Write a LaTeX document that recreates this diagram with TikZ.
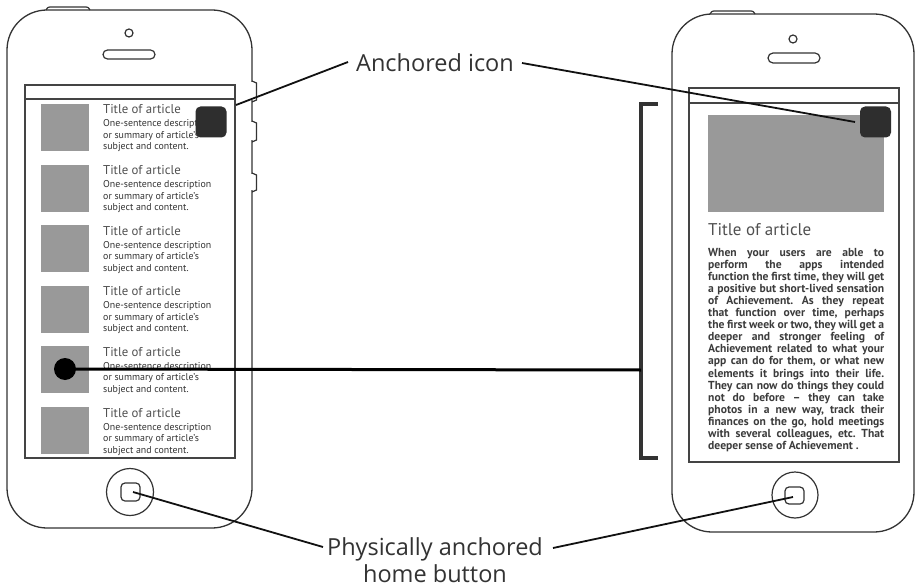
\documentclass[tikz,border=0pt]{standalone}
\usepackage{fontspec}
\setmainfont{Open Sans}
\newfontfamily\ptsans{PT Sans}
\newfontfamily\ptsansb{PT Sans Bold}
\definecolor{outline}{HTML}{333333}
\definecolor{scrline}{HTML}{444444}
\definecolor{thumbgray}{HTML}{999999}
\definecolor{icondark}{HTML}{2E2E2E}
\definecolor{txtgray}{HTML}{505050}
\definecolor{txtdark}{HTML}{333333}
\definecolor{paracol}{HTML}{3C3C3C}
\definecolor{labelgray}{HTML}{333333}
\definecolor{leadcol}{HTML}{111111}
\tikzset{
  body/.style={draw=outline, line width=1.3pt, fill=white},
  phoneline/.style={draw=outline, line width=1.2pt},
  scr/.style={draw=scrline, line width=1.5pt},
  thumb/.style={fill=thumbgray},
  iconbox/.style={fill=icondark, rounded corners=5pt, minimum size=31pt, inner sep=0pt},
  ttl/.style={font=\ptsans\fontsize{12.8}{14}\selectfont, text=txtgray, anchor=base west, inner sep=0pt},
  dsc/.style={font=\ptsans\fontsize{9.9}{11}\selectfont, text=txtdark, anchor=base west, inner sep=0pt},
  bigttl/.style={font=\ptsans\fontsize{17}{20}\selectfont, text=txtgray, anchor=base west, inner sep=0pt},
  para/.style={font=\ptsansb\fontsize{11.6}{12}\selectfont\frenchspacing, text=paracol, anchor=base west, inner sep=0pt},
  lead/.style={draw=leadcol, line width=1.8pt},
  thickline/.style={draw=black, line width=3pt},
  bracketline/.style={draw=outline, line width=3.5pt},
  dotnode/.style={circle, fill=black, minimum size=22pt, inner sep=0pt},
  biglabel/.style={font=\fontsize{23.5}{27}\selectfont, text=labelgray, anchor=base, inner sep=0pt}
}
\begin{document}
\begin{tikzpicture}[x=1pt,y=-1pt]
\useasboundingbox (0,0) rectangle (915,588);
\fill[white] (0,0) rectangle (915,588);

% ---------- left phone ----------
\draw[body, rounded corners=40pt] (7,10) rectangle (252,528);
\draw[phoneline] (46,10) .. controls (48,7) .. (52,7) -- (84,7) .. controls (88,7) .. (90,10);
\foreach \a/\b in {81/102,121/142,173/192}{
  \fill[white] (250,\a+1.5) rectangle (254,\b-1.5);
  \draw[phoneline] (252,\a) -- (256.5,\a+2) -- (256.5,\b-2) -- (252,\b);
}
\draw[phoneline] (129,33) circle (4pt);
\draw[phoneline, rounded corners=4.5pt] (103,50) rectangle (155,59);
\draw[scr] (25,85) rectangle (235,458);
\draw[scr] (25,99) -- (235,99);
\draw[phoneline] (130,492) circle (23.5pt);
\draw[phoneline, rounded corners=4pt] (121,483) rectangle (140,501);

\foreach \i in {0,...,5}{
  \pgfmathsetmacro\T{104+60.6*\i}
  \fill[thumb] (41,\T) rectangle (89,\T+47);
  \node[ttl] (ti\i) at (103,\T+10) {Title of article};
  \node[dsc] (da\i) at (103,\T+23) {One-sentence description};
  \node[dsc] (db\i) at (103,\T+34.5) {or summary of article’s};
  \node[dsc] (dc\i) at (103,\T+46) {subject and content.};
}
\node[iconbox] (iconL) at (211,122) {};

% ---------- right phone ----------
\draw[body, rounded corners=40pt] (672,14) rectangle (914,532);
\draw[phoneline] (710,14) .. controls (712,11) .. (716,11) -- (749,11) .. controls (753,11) .. (755,14);
\draw[phoneline] (793,39) circle (4pt);
\draw[phoneline, rounded corners=5pt] (768,53) rectangle (820,63);
\draw[scr] (689,88) rectangle (899,462);
\draw[scr] (689,103) -- (899,103);
\fill[thumb] (708,115) rectangle (884,212);
\node[iconbox] (iconR) at (875.5,122) {};
\node[bigttl] (rtitle) at (708,235) {Title of article};
\foreach \l [count=\k] in {
  {When your users are able to},
  {perform the apps intended},
  {function the first time, they will get},
  {a positive but short-lived sensation},
  {of Achievement. As they repeat},
  {that function over time, perhaps},
  {the first week or two, they will get a},
  {deeper and stronger feeling of},
  {Achievement related to what your},
  {app can do for them, or what new},
  {elements it brings into their life.},
  {They can now do things they could},
  {not do before – they can take},
  {photos in a new way, track their},
  {finances on the go, hold meetings},
  {with several colleagues, etc. That}}{
  \node[para] (p\k) at (708,{256+12.1*(\k-1)}) {\makebox[176pt][s]{\l}};
}
\node[para] (p17) at (708,{256+12.1*16}) {deeper sense of Achievement .};
\draw[phoneline] (795,495) circle (23pt);
\draw[phoneline, rounded corners=4pt] (785,487) rectangle (804,504);

% ---------- bracket and connector ----------
\draw[bracketline] (658,104) -- (641,104) -- (641,458) -- (658,458);
\coordinate (br) at (641,370);
\node[dotnode] (dot) at (65,369) {};
\draw[thickline] (dot.center) -- (br);

% ---------- labels ----------
\node[biglabel] (anch) at (435,72) {Anchored icon};
\coordinate (anchW) at (348,62);
\coordinate (anchE) at (522,63);
\coordinate (tipL) at (236,105);
\coordinate (tipR) at (855,122);
\draw[lead] (anchW) -- (tipL);
\draw[lead] (anchE) -- (tipR);

\node[biglabel] (home1) at (435,555) {Physically anchored};
\node[biglabel] (home2) at (435,582) {home button};
\coordinate (homeW) at (323,547);
\coordinate (homeE) at (553,548);
\coordinate (btnL) at (133,492);
\coordinate (btnR) at (793,497);
\draw[lead] (homeW) -- (btnL);
\draw[lead] (homeE) -- (btnR);
\end{tikzpicture}
\end{document}
